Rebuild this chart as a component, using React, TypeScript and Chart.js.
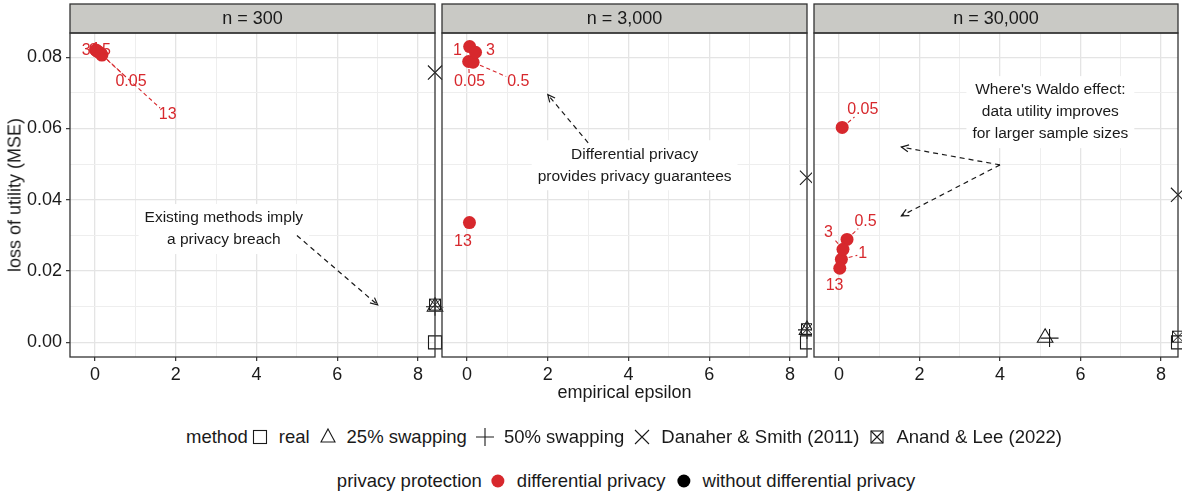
import React, { useEffect, useRef } from "react";
import { Chart, registerables } from "chart.js";

Chart.register(...registerables);

const FONT = "'Liberation Sans', Arial, Helvetica, sans-serif";
const INK = "#1A1A1A";
const RED = "#D7282D";
const STRIP_FILL = "#C9C9C5";
const BORDER = "#333333";

// ---------- axes ----------
const X_MIN = -0.62;
const X_MAX = 8.42;
const Y_MIN = -0.0041;
const Y_MAX = 0.0868;
const X_TICKS = [0, 1, 2, 3, 4, 5, 6, 7, 8];
const X_TICK_LABELS = ["0", "", "2", "", "4", "", "6", "", "8"];
const Y_TICKS = [0, 0.01, 0.02, 0.03, 0.04, 0.05, 0.06, 0.07, 0.08];
const Y_TICK_LABELS = ["0.00", "", "0.02", "", "0.04", "", "0.06", "", "0.08"];

// ---------- facets ----------
const PANEL_TITLES = ["n = 300", "n = 3,000", "n = 30,000"];

// differential privacy budgets (labels of red points)
const DP_BUDGETS = ["0.05", "0.5", "1", "3", "13"];

// n = 300
const DP_EPS_N300 = [0.15, 0.05, 0.02, 0.08, 0.17];
const DP_MSE_N300 = [0.081, 0.0818, 0.082, 0.0815, 0.0806];
const DP_LABEL_X_N300 = [0.89, 0.12, 0.02, -0.22, 1.8];
const DP_LABEL_Y_N300 = [0.0731, 0.082, 0.0822, 0.082, 0.0638];

// n = 3,000
const DP_EPS_N3000 = [0.04, 0.15, 0.065, 0.21, 0.06];
const DP_MSE_N3000 = [0.0788, 0.0786, 0.083, 0.0814, 0.0336];
const DP_LABEL_X_N3000 = [0.06, 1.27, -0.24, 0.58, -0.1];
const DP_LABEL_Y_N3000 = [0.0731, 0.0731, 0.082, 0.082, 0.0283];

// n = 30,000
const DP_EPS_N30000 = [0.08, 0.2, 0.06, 0.1, 0.02];
const DP_MSE_N30000 = [0.0603, 0.0289, 0.0233, 0.0261, 0.0208];
const DP_LABEL_X_N30000 = [0.59, 0.66, 0.59, -0.26, -0.11];
const DP_LABEL_Y_N30000 = [0.0652, 0.0339, 0.0248, 0.0308, 0.0158];

// methods without differential privacy (Infinity = beyond the axis, drawn at the edge)
const METHODS = ["real", "25% swapping", "50% swapping", "Danaher & Smith (2011)", "Anand & Lee (2022)"];
const METHOD_EPS_N300 = [Infinity, Infinity, Infinity, Infinity, Infinity];
const METHOD_MSE_N300 = [0.0, 0.01, 0.01, 0.0757, 0.0106];
const METHOD_EPS_N3000 = [Infinity, Infinity, Infinity, Infinity, Infinity];
const METHOD_MSE_N3000 = [0.0, 0.0035, 0.0035, 0.0462, 0.0037];
const METHOD_EPS_N30000 = [Infinity, 5.12, 5.23, Infinity, Infinity];
const METHOD_MSE_N30000 = [0.0, 0.0013, 0.0012, 0.0414, 0.0016];

// annotations: text lines, centre (x, y), arrows [x1, y1, x2, y2]
const NOTE_TEXT_N300 = ["Existing methods imply", "a privacy breach"];
const NOTE_POS_N300 = [3.19, 0.0318];
const NOTE_ARROWS_N300 = [[5.0, 0.03, 7.0, 0.0105]];
const NOTE_TEXT_N3000 = ["Differential privacy", "provides privacy guarantees"];
const NOTE_POS_N3000 = [4.15, 0.0497];
const NOTE_ARROWS_N3000 = [[3.0, 0.056, 2.0, 0.0695]];
const NOTE_TEXT_N30000 = ["Where's Waldo effect:", "data utility improves", "for larger sample sizes"];
const NOTE_POS_N30000 = [5.25, 0.0646];
const NOTE_ARROWS_N30000 = [
  [4.0, 0.0498, 1.55, 0.0548],
  [4.0, 0.0498, 1.55, 0.0355],
];

const PANELS = [
  {
    title: PANEL_TITLES[0],
    dpEps: DP_EPS_N300, dpMse: DP_MSE_N300, labX: DP_LABEL_X_N300, labY: DP_LABEL_Y_N300,
    mEps: METHOD_EPS_N300, mMse: METHOD_MSE_N300,
    note: NOTE_TEXT_N300, notePos: NOTE_POS_N300, arrows: NOTE_ARROWS_N300,
  },
  {
    title: PANEL_TITLES[1],
    dpEps: DP_EPS_N3000, dpMse: DP_MSE_N3000, labX: DP_LABEL_X_N3000, labY: DP_LABEL_Y_N3000,
    mEps: METHOD_EPS_N3000, mMse: METHOD_MSE_N3000,
    note: NOTE_TEXT_N3000, notePos: NOTE_POS_N3000, arrows: NOTE_ARROWS_N3000,
  },
  {
    title: PANEL_TITLES[2],
    dpEps: DP_EPS_N30000, dpMse: DP_MSE_N30000, labX: DP_LABEL_X_N30000, labY: DP_LABEL_Y_N30000,
    mEps: METHOD_EPS_N30000, mMse: METHOD_MSE_N30000,
    note: NOTE_TEXT_N30000, notePos: NOTE_POS_N30000, arrows: NOTE_ARROWS_N30000,
  },
];

// layout of the three canvases
const CANVAS_H = 400;
const LAYOUT = [
  { left: 0, width: 445, padL: 0, padR: 10, yAxisW: 70 },
  { left: 437, width: 375, padL: 5, padR: 5, yAxisW: 0 },
  { left: 809, width: 373, padL: 5, padR: 4, yAxisW: 0 },
];
const PLOT_TOP = 33;
const STRIP_TOP = 4;
const X_AXIS_H = 43;

function makeSquareCross(size: number) {
  const c = document.createElement("canvas");
  c.width = size;
  c.height = size;
  const g = c.getContext("2d")!;
  g.strokeStyle = INK;
  g.lineWidth = 1;
  const a = 1.5, b = size - 1.5;
  g.strokeRect(a, a, b - a, b - a);
  g.beginPath();
  g.moveTo(a, a);
  g.lineTo(b, b);
  g.moveTo(b, a);
  g.lineTo(a, b);
  g.stroke();
  return c;
}

function mapX(x: number) {
  return Number.isFinite(x) ? x : X_MAX;
}

function drawArrow(ctx: CanvasRenderingContext2D, x1: number, y1: number, x2: number, y2: number) {
  ctx.save();
  ctx.strokeStyle = INK;
  ctx.lineWidth = 1.2;
  ctx.setLineDash([5, 4]);
  ctx.beginPath();
  ctx.moveTo(x1, y1);
  ctx.lineTo(x2, y2);
  ctx.stroke();
  ctx.setLineDash([]);
  const ang = Math.atan2(y2 - y1, x2 - x1);
  const L = 8;
  const spread = 0.45;
  ctx.beginPath();
  ctx.moveTo(x2 - L * Math.cos(ang - spread), y2 - L * Math.sin(ang - spread));
  ctx.lineTo(x2, y2);
  ctx.lineTo(x2 - L * Math.cos(ang + spread), y2 - L * Math.sin(ang + spread));
  ctx.stroke();
  ctx.restore();
}

function makePlugin(p: (typeof PANELS)[number]) {
  return {
    id: "facetDecor",
    afterDatasetsDraw(chart: any) {
      const ctx: CanvasRenderingContext2D = chart.ctx;
      const xs = chart.scales.x;
      const ys = chart.scales.y;
      ctx.save();
      // red point labels with repel segments
      ctx.font = `16px ${FONT}`;
      ctx.textAlign = "center";
      ctx.textBaseline = "middle";
      const R = 6.5;
      p.labX.forEach((lxv: number, i: number) => {
        const px = xs.getPixelForValue(p.dpEps[i]);
        const py = ys.getPixelForValue(p.dpMse[i]);
        const lx = xs.getPixelForValue(lxv);
        const ly = ys.getPixelForValue(p.labY[i]);
        const text = DP_BUDGETS[i];
        const w = ctx.measureText(text).width + 2;
        const h = 14;
        const dx = px - lx;
        const dy = py - ly;
        const tx = Math.abs(dx) > 1e-6 ? (w / 2) / Math.abs(dx) : Infinity;
        const ty = Math.abs(dy) > 1e-6 ? (h / 2) / Math.abs(dy) : Infinity;
        const t = Math.min(tx, ty);
        if (t < 1) {
          const ex = lx + dx * t;
          const ey = ly + dy * t;
          const d = Math.hypot(px - ex, py - ey);
          if (d - R > 6.5) {
            const sx = px + ((ex - px) / d) * (R + 1);
            const sy = py + ((ey - py) / d) * (R + 1);
            ctx.strokeStyle = RED;
            ctx.lineWidth = 1.1;
            ctx.setLineDash([4, 3]);
            ctx.beginPath();
            ctx.moveTo(sx, sy);
            ctx.lineTo(ex, ey);
            ctx.stroke();
            ctx.setLineDash([]);
          }
        }
        ctx.fillStyle = RED;
        ctx.fillText(text, lx, ly);
      });

      // annotation box + text
      ctx.font = `15.5px ${FONT}`;
      const cx = xs.getPixelForValue(p.notePos[0]);
      const cy = ys.getPixelForValue(p.notePos[1]);
      const lh = 22;
      const n = p.note.length;
      const maxW = Math.max(...p.note.map((s: string) => ctx.measureText(s).width));
      const boxH = n * lh + 6;
      ctx.fillStyle = "#FFFFFF";
      ctx.fillRect(cx - maxW / 2 - 6, cy - boxH / 2, maxW + 12, boxH);
      ctx.fillStyle = INK;
      p.note.forEach((s: string, k: number) => {
        ctx.fillText(s, cx, cy + (k - (n - 1) / 2) * lh);
      });
      p.arrows.forEach((a: number[]) => {
        drawArrow(
          ctx,
          xs.getPixelForValue(a[0]),
          ys.getPixelForValue(a[1]),
          xs.getPixelForValue(a[2]),
          ys.getPixelForValue(a[3])
        );
      });
      ctx.restore();
    },
    afterDraw(chart: any) {
      const ctx: CanvasRenderingContext2D = chart.ctx;
      const { left, right, top, bottom } = chart.chartArea;
      ctx.save();
      // strip
      ctx.fillStyle = STRIP_FILL;
      ctx.fillRect(left, STRIP_TOP, right - left, top - STRIP_TOP);
      ctx.strokeStyle = BORDER;
      ctx.lineWidth = 1.3;
      ctx.strokeRect(left, STRIP_TOP, right - left, top - STRIP_TOP);
      ctx.fillStyle = INK;
      ctx.font = `18px ${FONT}`;
      ctx.textAlign = "center";
      ctx.textBaseline = "middle";
      ctx.fillText(p.title, (left + right) / 2, (STRIP_TOP + top) / 2 + 1);
      // panel border
      ctx.strokeRect(left, top, right - left, bottom - top);
      ctx.restore();
    },
  };
}

const gridColor = (ctx: any) => (ctx.index % 2 === 0 ? "#E4E4E4" : "#EEEEEE");
const gridWidth = (ctx: any) => (ctx.index % 2 === 0 ? 1.3 : 1);
const tickColor = (ctx: any) => (ctx.index % 2 === 0 ? BORDER : "rgba(0,0,0,0)");

export default function App() {
  const r0 = useRef<HTMLCanvasElement>(null);
  const r1 = useRef<HTMLCanvasElement>(null);
  const r2 = useRef<HTMLCanvasElement>(null);

  useEffect(() => {
    document.body.style.margin = "0";
    const refs = [r0, r1, r2];
    const squareCross = makeSquareCross(14);
    const methodStyles: any[] = [
      { pointStyle: "rect", radius: 9.2 },
      { pointStyle: "triangle", radius: 9 },
      { pointStyle: "cross", radius: 9 },
      { pointStyle: "crossRot", radius: 10 },
      { pointStyle: squareCross, radius: 7 },
    ];
    const charts = PANELS.map((p, pi) => {
      const lay = LAYOUT[pi];
      const datasets: any[] = [
        {
          label: "differential privacy",
          data: p.dpEps.map((x, i) => ({ x: mapX(x), y: p.dpMse[i] })),
          pointStyle: "circle",
          pointRadius: 6.5,
          backgroundColor: RED,
          borderColor: RED,
          borderWidth: 0,
          clip: false,
        },
        ...METHODS.map((m, mi) => ({
          label: m,
          data: [{ x: mapX(p.mEps[mi]), y: p.mMse[mi] }],
          pointStyle: methodStyles[mi].pointStyle,
          pointRadius: methodStyles[mi].radius,
          backgroundColor: "rgba(0,0,0,0)",
          borderColor: INK,
          borderWidth: 1.1,
          clip: false,
        })),
      ];
      return new Chart(refs[pi].current!, {
        type: "scatter",
        data: { datasets },
        plugins: [makePlugin(p)],
        options: {
          animation: false,
          responsive: false,
          maintainAspectRatio: false,
          devicePixelRatio: 1,
          events: [],
          layout: { padding: { top: PLOT_TOP, left: lay.padL, right: lay.padR, bottom: 0 }, autoPadding: false },
          plugins: { legend: { display: false }, tooltip: { enabled: false } },
          scales: {
            x: {
              type: "linear",
              min: X_MIN,
              max: X_MAX,
              afterBuildTicks: (s: any) => {
                s.ticks = X_TICKS.map((v) => ({ value: v }));
              },
              afterFit: (s: any) => {
                s.height = X_AXIS_H;
              },
              ticks: {
                autoSkip: false,
                maxRotation: 0,
                padding: 3,
                color: INK,
                font: { family: FONT, size: 18 },
                callback: (_v: any, idx: number) => X_TICK_LABELS[idx],
              },
              grid: { color: gridColor, lineWidth: gridWidth, tickLength: 4, tickColor, tickWidth: 1.2 },
              border: { display: false },
            },
            y: {
              type: "linear",
              min: Y_MIN,
              max: Y_MAX,
              afterBuildTicks: (s: any) => {
                s.ticks = Y_TICKS.map((v) => ({ value: v }));
              },
              afterFit: (s: any) => {
                s.width = lay.yAxisW;
              },
              ticks: {
                display: pi === 0,
                autoSkip: false,
                padding: 4,
                color: INK,
                font: { family: FONT, size: 18 },
                callback: (_v: any, idx: number) => Y_TICK_LABELS[idx],
              },
              grid: {
                color: gridColor,
                lineWidth: gridWidth,
                drawTicks: pi === 0,
                tickLength: 4,
                tickColor,
                tickWidth: 1.2,
              },
              border: { display: false },
            },
          },
        } as any,
      });
    });
    return () => charts.forEach((c) => c.destroy());
  }, []);

  const sym = (kind: number) => {
    const s = 20;
    const c = s / 2;
    const st = { stroke: INK, strokeWidth: 1.1, fill: "none" } as any;
    let el: any = null;
    if (kind === 0) el = <rect x={c - 6.5} y={c - 6.5} width={13} height={13} {...st} />;
    if (kind === 1) el = <polygon points={`${c},${c - 8} ${c + 7},${c + 5} ${c - 7},${c + 5}`} {...st} />;
    if (kind === 2) el = <path d={`M${c - 9} ${c} H${c + 9} M${c} ${c - 9} V${c + 9}`} {...st} />;
    if (kind === 3) el = <path d={`M${c - 7} ${c - 7} L${c + 7} ${c + 7} M${c + 7} ${c - 7} L${c - 7} ${c + 7}`} {...st} />;
    if (kind === 4)
      el = (
        <g>
          <rect x={c - 6} y={c - 6} width={12} height={12} {...st} />
          <path d={`M${c - 6} ${c - 6} L${c + 6} ${c + 6} M${c + 6} ${c - 6} L${c - 6} ${c + 6}`} {...st} />
        </g>
      );
    return (
      <svg width={s} height={s} style={{ display: "block", flex: "none" }}>
        {el}
      </svg>
    );
  };

  const dot = (color: string) => (
    <svg width={20} height={20} style={{ display: "block", flex: "none" }}>
      <circle cx={10} cy={10} r={6.5} fill={color} />
    </svg>
  );

  const textStyle: React.CSSProperties = { fontFamily: FONT, color: INK, whiteSpace: "nowrap" };
  const PRIVACY = ["differential privacy", "without differential privacy"];
  const PRIVACY_COLORS = [RED, "#000000"];

  return (
    <div
      style={{
        position: "fixed",
        left: 0,
        top: 0,
        width: 1182,
        height: 493,
        background: "#FFFFFF",
        overflow: "hidden",
      }}
    >
      {LAYOUT.map((l, i) => (
        <canvas
          key={i}
          ref={[r0, r1, r2][i]}
          width={l.width}
          height={CANVAS_H}
          style={{ position: "absolute", left: l.left, top: 0, width: l.width, height: CANVAS_H }}
        />
      ))}
      <div
        style={{
          ...textStyle,
          position: "absolute",
          left: 15,
          top: 195,
          fontSize: 18,
          transform: "translate(-50%, -50%) rotate(-90deg)",
        }}
      >
        loss of utility (MSE)
      </div>
      <div
        style={{
          ...textStyle,
          position: "absolute",
          left: 624.5,
          top: 392,
          fontSize: 18,
          transform: "translate(-50%, -50%)",
        }}
      >
        empirical epsilon
      </div>
      <div
        style={{
          ...textStyle,
          position: "absolute",
          left: 628,
          top: 437,
          fontSize: 18.5,
          transform: "translate(-50%, -50%)",
          display: "flex",
          alignItems: "center",
        }}
      >
        <span style={{ marginRight: 2 }}>method</span>
        {METHODS.map((m, i) => (
          <React.Fragment key={m}>
            {sym(i)}
            <span style={{ marginLeft: 9, marginRight: 8 }}>{m}</span>
          </React.Fragment>
        ))}
      </div>
      <div
        style={{
          ...textStyle,
          position: "absolute",
          left: 630,
          top: 481,
          fontSize: 18.5,
          transform: "translate(-50%, -50%)",
          display: "flex",
          alignItems: "center",
        }}
      >
        <span style={{ marginRight: 6 }}>privacy protection</span>
        {PRIVACY.map((m, i) => (
          <React.Fragment key={m}>
            {dot(PRIVACY_COLORS[i])}
            <span style={{ marginLeft: 9, marginRight: 8 }}>{m}</span>
          </React.Fragment>
        ))}
      </div>
    </div>
  );
}
